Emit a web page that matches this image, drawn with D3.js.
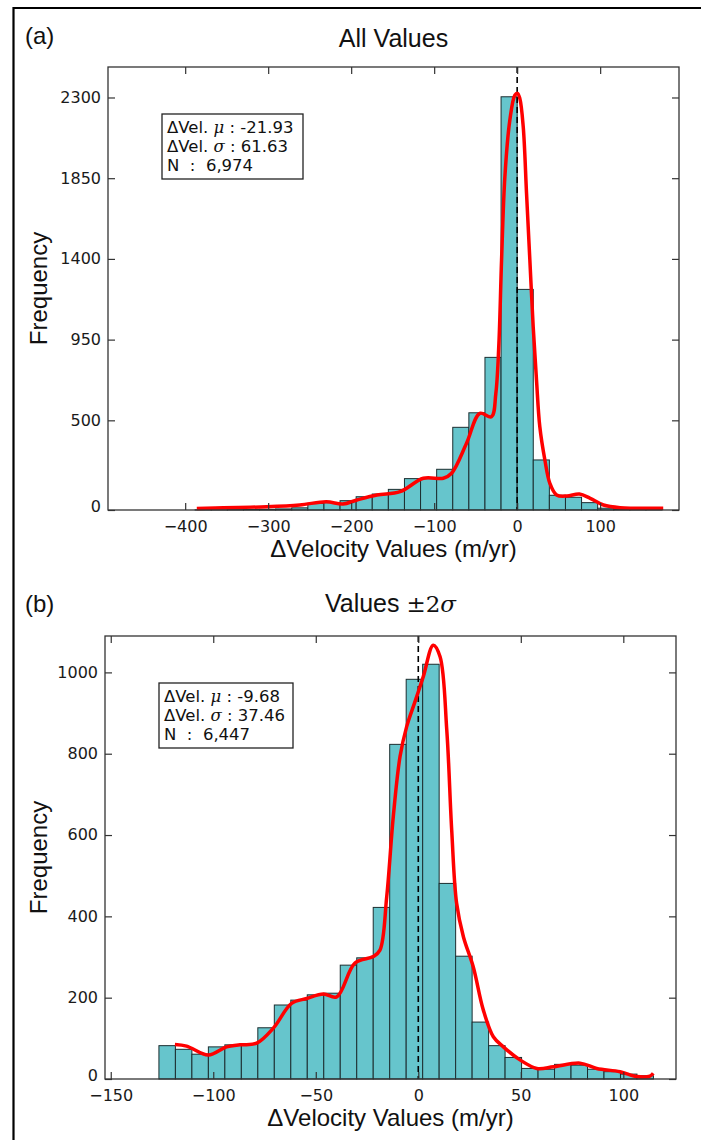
<!DOCTYPE html>
<html>
<head>
<meta charset="utf-8">
<script src="https://cdn.jsdelivr.net/npm/d3@7"></script>
<style>
  body { margin: 0; background: #fff; }
  svg { display: block; }
  .tick text { font-family: "DejaVu Sans", sans-serif; font-size: 16px; fill: #1a1a1a; }
  .tick line { stroke: #333; stroke-width: 1.2; }
</style>
</head>
<body>
<div id="chart"></div>
<script>
// panel (a): all values
const binEdgesA = [-388, -368.6, -349.2, -329.8, -310.4, -291, -271.6, -252.2, -232.8, -213.4,
  -194, -174.6, -155.2, -135.8, -116.4, -97, -77.6, -58.2, -38.8, -19.4,
  0, 19.4, 38.8, 58.2, 77.6, 97, 116.4, 135.8, 155.2, 174.6];
const countsA = [1, 1, 2, 3, 4, 6, 12, 37, 41, 52,
  74, 89, 115, 175, 175, 227, 461, 542, 851, 2304,
  1230, 279, 82, 71, 41, 10, 3, 1, 1];
const kdeAx = [-386, -302, -262, -230, -210, -193, -169, -141, -113, -89, -79, -61, -45, -31,
  -25.7, -22, -18.8, -14.8, -8.8, -2.8, 0.4, 3.2, 7.3, 11.3, 15.3, 19.3, 23.3, 27.3, 33.4, 39.4,
  47.5, 60, 75, 88, 104, 124, 176];
const kdeAy = [9, 18, 28, 46, 33, 56, 84, 102, 177, 177, 205, 372, 539, 520,
  650, 929, 1393, 1858, 2174, 2313, 2323, 2295, 2137, 1765, 1393, 1022, 725, 464, 279, 149,
  84, 78, 89, 65, 28, 13, 10];
const xTicksA = [-400, -300, -200, -100, 0, 100];
const yTicksA = [0, 500, 950, 1400, 1850, 2300];
const statsA = ['-21.93', '61.63', '6,974'];

// panel (b): values within +-2 sigma
const binEdgesB = [-126.5, -118.46, -110.42, -102.38, -94.34, -86.3, -78.26, -70.22, -62.18, -54.14,
  -46.1, -38.06, -30.02, -21.98, -13.94, -5.9, 2.14, 10.18, 18.22, 26.26,
  34.3, 42.34, 50.38, 58.42, 66.46, 74.5, 82.54, 90.58, 98.62, 106.66, 114.7];
const countsB = [82, 73, 61, 79, 84, 86, 126, 182, 194, 207,
  211, 280, 298, 422, 823, 983, 1020, 481, 302, 140,
  82, 53, 26, 24, 36, 34, 24, 18, 12, 8];
const kdeBx = [-118.7, -113, -102.4, -93.5, -87, -78.8, -70.7, -61.8, -54.4, -46.3, -39.8, -30.9, -22,
  -18.7, -15.4, -12.2, -8.9, -5.7, -1.6, 2.4, 7.3, 10.6, 13.9, 16.3, 18.7, 22, 26.8, 31.7, 36.6,
  41.5, 49.6, 57.8, 65.9, 78.9, 87, 98.4, 106.5, 113, 114.6];
const kdeBy = [85, 81, 59, 79, 84, 88, 125, 186, 198, 209, 202, 285, 301,
  317, 448, 645, 793, 866, 928, 989, 1067, 1039, 858, 612, 432, 350, 276, 170, 104,
  79, 47, 26, 30, 39, 26, 18, 6, 7, 14];
const xTicksB = [-150, -100, -50, 0, 50, 100];
const yTicksB = [0, 200, 400, 600, 800, 1000];
const statsB = ['-9.68', '37.46', '6,447'];

const W = 701, H = 1140;
const svg = d3.select('#chart').append('svg')
  .attr('width', W)
  .attr('height', H);

svg.append('rect').attr('width', W).attr('height', H).attr('fill', '#fff');

// outer frame (cropped figure border)
svg.append('path')
  .attr('d', `M13.5,${H} V8 H${W}`)
  .attr('fill', 'none')
  .attr('stroke', '#000')
  .attr('stroke-width', 2.2);

const fmt = d3.format('d');

function drawPanel(cfg) {
  const { box, xDomain, yDomain, edges, counts, kx, ky, xTicks, yTicks, stats } = cfg;
  const x = d3.scaleLinear().domain(xDomain).range([box.left, box.right]);
  const y = d3.scaleLinear().domain(yDomain).range([box.bottom, box.top]);

  const g = svg.append('g');

  const bins = counts.map((c, i) => ({ x0: edges[i], x1: edges[i + 1], n: c }));
  g.selectAll('rect.bar')
    .data(bins)
    .join('rect')
    .attr('class', 'bar')
    .attr('x', d => x(d.x0))
    .attr('width', d => x(d.x1) - x(d.x0))
    .attr('y', d => y(d.n))
    .attr('height', d => y(0) - y(d.n))
    .attr('fill', '#66c5cc')
    .attr('stroke', '#1c2e30')
    .attr('stroke-width', 1);

  // zero line
  g.append('line')
    .attr('x1', x(0)).attr('x2', x(0))
    .attr('y1', box.top).attr('y2', box.bottom)
    .attr('stroke', '#000')
    .attr('stroke-width', 1.6)
    .attr('stroke-dasharray', '6,4');

  const line = d3.line()
    .x(d => x(d[0]))
    .y(d => y(d[1]))
    .curve(d3.curveCatmullRom.alpha(0.5));
  g.append('path')
    .attr('d', line(d3.zip(kx, ky)))
    .attr('fill', 'none')
    .attr('stroke', '#ff0000')
    .attr('stroke-width', 3.5)
    .attr('stroke-linejoin', 'round');

  // axes, ticks pointing in on every side
  const tk = 7;
  g.append('g')
    .attr('transform', `translate(0,${box.bottom})`)
    .call(d3.axisBottom(x).tickValues(xTicks).tickFormat(fmt).tickSizeInner(-tk).tickSizeOuter(0).tickPadding(cfg.xPad))
    .call(a => a.select('.domain').remove());
  g.append('g')
    .attr('transform', `translate(0,${box.top})`)
    .call(d3.axisTop(x).tickValues(xTicks).tickSizeInner(-tk).tickSizeOuter(0).tickFormat(''))
    .call(a => a.select('.domain').remove());
  g.append('g')
    .attr('transform', `translate(${box.left},0)`)
    .call(d3.axisLeft(y).tickValues(yTicks).tickFormat(fmt).tickSizeInner(-tk).tickSizeOuter(0).tickPadding(7))
    .call(a => a.select('.domain').remove())
    .call(a => a.selectAll('text').attr('dy', d => (d === 0 ? '0.12em' : '0.3em')));
  g.append('g')
    .attr('transform', `translate(${box.right},0)`)
    .call(d3.axisRight(y).tickValues(yTicks).tickSizeInner(-tk).tickSizeOuter(0).tickFormat(''))
    .call(a => a.select('.domain').remove());

  g.append('rect')
    .attr('x', box.left).attr('y', box.top)
    .attr('width', box.right - box.left)
    .attr('height', box.bottom - box.top)
    .attr('fill', 'none')
    .attr('stroke', '#333')
    .attr('stroke-width', 1.3);

  // stats box
  const lg = cfg.legend;
  g.append('rect')
    .attr('x', lg.x).attr('y', lg.y)
    .attr('width', lg.w).attr('height', lg.h)
    .attr('fill', '#fff')
    .attr('stroke', '#222')
    .attr('stroke-width', 1.3);
  const lt = g.append('g')
    .attr('font-family', 'DejaVu Sans, sans-serif')
    .attr('font-size', 16.5)
    .attr('fill', '#111');
  const row1 = lt.append('text').attr('x', lg.x + 5).attr('y', lg.y + 19);
  row1.append('tspan').text('\u0394Vel. ');
  row1.append('tspan').attr('font-family', 'DejaVu Serif, serif').attr('font-style', 'italic').text('\u03bc');
  row1.append('tspan').text(' : ' + stats[0]);
  const row2 = lt.append('text').attr('x', lg.x + 5).attr('y', lg.y + 38);
  row2.append('tspan').text('\u0394Vel. ');
  row2.append('tspan').attr('font-family', 'DejaVu Serif, serif').attr('font-style', 'italic').text('\u03c3');
  row2.append('tspan').text(' : ' + stats[1]);
  lt.append('text').attr('x', lg.x + 5).attr('y', lg.y + 57)
    .attr('xml:space', 'preserve')
    .text('N  :  ' + stats[2]);

  // labels
  const cx = (box.left + box.right) / 2;
  const cy = (box.top + box.bottom) / 2;
  svg.append('text')
    .attr('x', cx).attr('y', box.bottom + 47)
    .attr('text-anchor', 'middle')
    .attr('font-family', 'Liberation Sans, Arial, sans-serif')
    .attr('font-size', 24)
    .attr('fill', '#111')
    .text('\u0394Velocity Values (m/yr)');
  svg.append('text')
    .attr('transform', `translate(47,${cy}) rotate(-90)`)
    .attr('text-anchor', 'middle')
    .attr('font-family', 'Liberation Sans, Arial, sans-serif')
    .attr('font-size', 24)
    .attr('fill', '#111')
    .text('Frequency');

  svg.append('text')
    .attr('x', 25).attr('y', cfg.tagY)
    .attr('font-family', 'Liberation Sans, Arial, sans-serif')
    .attr('font-size', 24)
    .attr('fill', '#111')
    .text(cfg.tag);

  const title = svg.append('text')
    .attr('x', cx).attr('y', cfg.titleY)
    .attr('text-anchor', 'middle')
    .attr('font-family', 'Liberation Sans, Arial, sans-serif')
    .attr('font-size', 25)
    .attr('fill', '#111');
  cfg.title(title);
}

drawPanel({
  box: { left: 108, right: 679, top: 67, bottom: 510 },
  xDomain: [-493, 195],
  yDomain: [0, 2470],
  edges: binEdgesA, counts: countsA, kx: kdeAx, ky: kdeAy,
  xTicks: xTicksA, yTicks: yTicksA, stats: statsA,
  xPad: 11,
  legend: { x: 162, y: 114, w: 141, h: 65 },
  tag: '(a)', tagY: 44, titleY: 47,
  title: t => t.text('All Values'),
});

drawPanel({
  box: { left: 105, right: 676, top: 636, bottom: 1079 },
  xDomain: [-152.8, 125.7],
  yDomain: [0, 1089.5],
  edges: binEdgesB, counts: countsB, kx: kdeBx, ky: kdeBy,
  xTicks: xTicksB, yTicks: yTicksB, stats: statsB,
  xPad: 11,
  legend: { x: 159, y: 683, w: 134, h: 65 },
  tag: '(b)', tagY: 612, titleY: 612,
  title: t => {
    t.append('tspan').text('Values ');
    t.append('tspan').attr('font-family', 'DejaVu Serif, serif').attr('font-size', 23).text('\u00b12');
    t.append('tspan').attr('font-family', 'DejaVu Serif, serif').attr('font-style', 'italic').attr('font-size', 23).text('\u03c3');
  },
});
</script>
</body>
</html>
